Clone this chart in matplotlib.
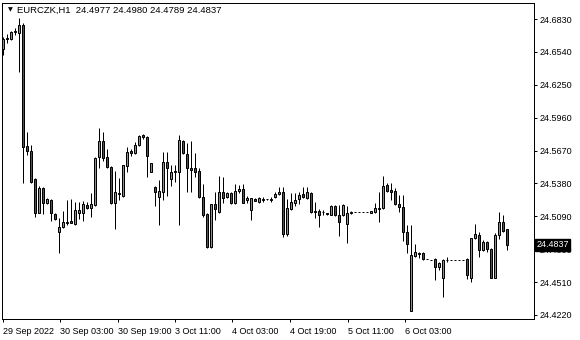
import matplotlib
matplotlib.use("Agg")
import matplotlib.pyplot as plt

# DATA (hourly candles)
symbol = "EURCZK,H1"
opens = [24.6566, 24.6650, 24.6658, 24.6720, 24.6710, 24.6778, 24.5710, 24.5666, 24.5419, 24.5122,
         24.5340, 24.5208, 24.5234, 24.5111, 24.4952, 24.4996, 24.5031, 24.5049, 24.5022, 24.5119,
         24.5119, 24.5190, 24.5163, 24.5190, 24.5613, 24.5754, 24.5613, 24.5525, 24.5208, 24.5296,
         24.5269, 24.5534, 24.5666, 24.5649, 24.5719, 24.5807, 24.5790, 24.5481, 24.5349, 24.5260,
         24.5305, 24.5569, 24.5419, 24.5481, 24.5481, 24.5754, 24.5640, 24.5516, 24.5516, 24.5490,
         24.5260, 24.5111, 24.4820, 24.5199, 24.5128, 24.5305, 24.5260, 24.5296, 24.5208, 24.5313,
         24.5331, 24.5234, 24.5146, 24.5243, 24.5216, 24.5234, 24.5243, 24.5238, 24.5260, 24.5287,
         24.5305, 24.4934, 24.5155, 24.5208, 24.5243, 24.5287, 24.5252, 24.5296, 24.5128, 24.5137,
         24.5124, 24.5119, 24.5102, 24.5181, 24.5102, 24.5102, 24.5022, 24.5119, 24.5128, 24.5128,
         24.5128, 24.5128, 24.5119, 24.5128, 24.5155, 24.5163, 24.5366, 24.5322, 24.5313, 24.5199,
         24.5172, 24.4952, 24.4255, 24.4740, 24.4758, 24.4767, 24.4714, 24.4705, 24.4714, 24.4643,
         24.4546, 24.4705, 24.4705, 24.4705, 24.4705, 24.4705, 24.4714, 24.4546, 24.4899, 24.4925,
         24.4793, 24.4864, 24.4802, 24.4546, 24.4925, 24.5040, 24.4977]
highs = [24.6672, 24.6698, 24.6725, 24.6751, 24.6837, 24.6795, 24.5834, 24.5719, 24.5428, 24.5358,
         24.5349, 24.5252, 24.5243, 24.5119, 24.5075, 24.5137, 24.5234, 24.5243, 24.5216, 24.5216,
         24.5225, 24.5216, 24.5296, 24.5613, 24.5869, 24.5834, 24.5684, 24.5534, 24.5490, 24.5428,
         24.5543, 24.5702, 24.5684, 24.5746, 24.5807, 24.5816, 24.5799, 24.5560, 24.5358, 24.5410,
         24.5657, 24.5657, 24.5543, 24.5543, 24.5807, 24.5763, 24.5737, 24.5754, 24.5649, 24.5516,
         24.5375, 24.5119, 24.5199, 24.5305, 24.5446, 24.5437, 24.5305, 24.5305, 24.5375, 24.5366,
         24.5375, 24.5269, 24.5252, 24.5252, 24.5260, 24.5260, 24.5247, 24.5260, 24.5305, 24.5349,
         24.5349, 24.5243, 24.5296, 24.5296, 24.5305, 24.5349, 24.5349, 24.5305, 24.5216, 24.5155,
         24.5146, 24.5119, 24.5190, 24.5190, 24.5190, 24.5199, 24.5181, 24.5137, 24.5128, 24.5128,
         24.5128, 24.5128, 24.5137, 24.5208, 24.5305, 24.5446, 24.5384, 24.5384, 24.5340, 24.5278,
         24.5278, 24.5014, 24.5014, 24.4846, 24.4775, 24.4775, 24.4714, 24.4705, 24.4722, 24.4687,
         24.4714, 24.4731, 24.4705, 24.4705, 24.4705, 24.4705, 24.4722, 24.4899, 24.5022, 24.4952,
         24.4881, 24.4872, 24.4811, 24.4943, 24.5128, 24.5102, 24.4980]
lows = [24.6513, 24.6619, 24.6645, 24.6689, 24.6366, 24.5384, 24.5631, 24.5384, 24.5084, 24.5119,
        24.5111, 24.5199, 24.5051, 24.5058, 24.4767, 24.4987, 24.5014, 24.5031, 24.5014, 24.5066,
        24.5051, 24.5155, 24.5084, 24.5181, 24.5516, 24.5578, 24.5516, 24.5199, 24.4978, 24.5234,
        24.5260, 24.5481, 24.5622, 24.5640, 24.5710, 24.5772, 24.5437, 24.5481, 24.5181, 24.5014,
        24.5234, 24.5269, 24.5358, 24.5393, 24.5014, 24.5640, 24.5305, 24.5305, 24.5437, 24.5252,
        24.5084, 24.4811, 24.4811, 24.5058, 24.5119, 24.5208, 24.5252, 24.5199, 24.5199, 24.5296,
        24.5208, 24.5208, 24.5058, 24.5225, 24.5208, 24.5216, 24.5238, 24.5216, 24.5252, 24.5278,
        24.4908, 24.4917, 24.5146, 24.5181, 24.5199, 24.5252, 24.5243, 24.5119, 24.5075, 24.4996,
        24.5102, 24.5102, 24.5102, 24.5093, 24.4917, 24.5093, 24.4855, 24.5111, 24.5128, 24.5128,
        24.5128, 24.5128, 24.5115, 24.5119, 24.5040, 24.5155, 24.5305, 24.5234, 24.5190, 24.5128,
        24.4872, 24.4767, 24.4255, 24.4731, 24.4722, 24.4705, 24.4714, 24.4705, 24.4528, 24.4617,
        24.4379, 24.4687, 24.4705, 24.4705, 24.4705, 24.4705, 24.4537, 24.4511, 24.4890, 24.4731,
        24.4784, 24.4775, 24.4546, 24.4546, 24.4890, 24.4952, 24.4789]
closes = [24.6654, 24.6663, 24.6716, 24.6729, 24.6778, 24.5702, 24.5666, 24.5395, 24.5122, 24.5340,
          24.5208, 24.5243, 24.5119, 24.5066, 24.4996, 24.5040, 24.5044, 24.5031, 24.5146, 24.5146,
          24.5199, 24.5163, 24.5199, 24.5604, 24.5754, 24.5604, 24.5525, 24.5208, 24.5305, 24.5287,
          24.5543, 24.5657, 24.5649, 24.5719, 24.5799, 24.5790, 24.5622, 24.5560, 24.5305, 24.5313,
          24.5569, 24.5516, 24.5481, 24.5490, 24.5763, 24.5649, 24.5516, 24.5499, 24.5481, 24.5260,
          24.5102, 24.4820, 24.5199, 24.5155, 24.5305, 24.5252, 24.5296, 24.5208, 24.5313, 24.5327,
          24.5208, 24.5252, 24.5252, 24.5225, 24.5252, 24.5247, 24.5243, 24.5243, 24.5287, 24.5305,
          24.4934, 24.5163, 24.5216, 24.5234, 24.5278, 24.5260, 24.5305, 24.5128, 24.5137, 24.5102,
          24.5128, 24.5111, 24.5181, 24.5102, 24.5040, 24.5190, 24.5119, 24.5128, 24.5128, 24.5128,
          24.5128, 24.5128, 24.5137, 24.5163, 24.5163, 24.5358, 24.5313, 24.5305, 24.5199, 24.5172,
          24.4952, 24.4846, 24.4749, 24.4775, 24.4767, 24.4714, 24.4714, 24.4705, 24.4643, 24.4678,
          24.4705, 24.4705, 24.4705, 24.4705, 24.4705, 24.4705, 24.4573, 24.4899, 24.4934, 24.4793,
          24.4864, 24.4802, 24.4546, 24.4925, 24.5040, 24.4960, 24.4837]
price_ticks = [24.6830, 24.6540, 24.6250, 24.5960, 24.5670, 24.5380, 24.5090, 24.4800, 24.4510, 24.4220]
time_labels = ["29 Sep 2022", "30 Sep 03:00", "30 Sep 19:00", "3 Oct 11:00",
               "4 Oct 03:00", "4 Oct 19:00", "5 Oct 11:00", "6 Oct 03:00"]

# PLOT SETUP:
W, H = 580, 340
fig = plt.figure(figsize=(W / 100, H / 100), dpi=100)
ax = fig.add_axes([2 / W, 1 - 319 / H, 532 / W, 316 / H])
ax.set_xlim(-0.25, 132.75)
ax.set_ylim(24.4184, 24.6972)

bull, bear = "#32cd32", "#e01414"
px = 0.72  # one pixel in points

# CANDLES:
for i, (o, h, l, c) in enumerate(zip(opens, highs, lows, closes)):
    ax.vlines(i, l, h, color="black", linewidth=px, zorder=2)
    bottom = min(o, c)
    height = abs(c - o)
    ax.bar(i, height, bottom=bottom, width=0.72,
           color=bull if c >= o else bear,
           edgecolor="black", linewidth=px, zorder=3)

# AXES / TICKS:
for s in ax.spines.values():
    s.set_linewidth(px)
    s.set_color("black")
ax.yaxis.tick_right()
ax.set_yticks(price_ticks)
ax.set_yticklabels([f"{p:.4f}" for p in price_ticks])
label_pos = [(x - 3) / 4 for x in [2.7, 60, 117.7, 175, 232.3, 290, 347.7, 405]]
ax.set_xticks(label_pos)
ax.set_xticklabels(time_labels, ha="left")
ax.tick_params(axis="both", length=2.5, width=px, color="black",
               labelsize=6.5, pad=1.5)
ax.tick_params(axis="x", pad=3)
for t in ax.get_xticklabels() + ax.get_yticklabels():
    t.set_fontfamily("Liberation Sans")

# LAST PRICE BOX:
ax.text(1.004, closes[-1], f"{closes[-1]:.4f}", transform=ax.get_yaxis_transform(),
        ha="left", va="center", color="white", fontsize=6.5, family="Liberation Sans",
        bbox=dict(boxstyle="square,pad=0.15", facecolor="black", edgecolor="black"),
        zorder=10, clip_on=False)

# HEADER:
fig.text(10 / W, 1 - 10 / H, "\u25bc", fontsize=4.5, va="center", ha="center")
fig.text(17 / W, 1 - 10 / H,
         f"{symbol}  {opens[-1]:.4f} {highs[-1]:.4f} {lows[-1]:.4f} {closes[-1]:.4f}",
         fontsize=6.8, va="center", ha="left", family="Liberation Sans")

fig.savefig("out.png", dpi=100, facecolor="white")
